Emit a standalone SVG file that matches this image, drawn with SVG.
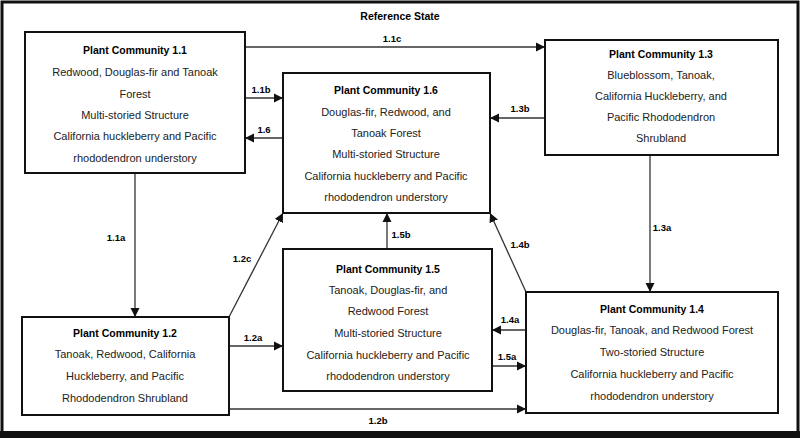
<svg xmlns="http://www.w3.org/2000/svg" width="800" height="438" viewBox="0 0 800 438">
<defs>
<marker id="a" viewBox="0 0 10 10" refX="10" refY="5" markerWidth="7" markerHeight="7" orient="auto"><path d="M0,0L10,5L0,10z" fill="#111"/></marker>
<style>
.b{fill:#fff;stroke:#111;stroke-width:2}
text{font-family:"Liberation Sans",Arial,sans-serif;font-size:11px;fill:#222;text-anchor:middle}
.h{font-weight:bold;font-size:10.5px;fill:#000}
.l{font-weight:bold;font-size:9.5px;fill:#000}
#c line{stroke:#333;stroke-width:1.3;marker-end:url(#a)}
</style>
</defs>
<rect x="0" y="0" width="800" height="438" fill="#fff"/>
<rect x="2" y="2" width="796" height="431" fill="none" stroke="#111" stroke-width="3"/>
<rect x="0" y="431" width="800" height="7" fill="#111"/>
<text class="h" x="400" y="20">Reference State</text>
<g id="c">
<line x1="245" y1="47" x2="545" y2="47"/>
<line x1="245" y1="98" x2="283" y2="98"/>
<line x1="283" y1="138" x2="245" y2="138"/>
<line x1="545" y1="118" x2="490" y2="118"/>
<line x1="135" y1="173" x2="135" y2="317"/>
<line x1="650" y1="155" x2="650" y2="292"/>
<line x1="229" y1="317" x2="283" y2="213"/>
<line x1="387" y1="249" x2="387" y2="213"/>
<line x1="526" y1="292" x2="490" y2="213"/>
<line x1="229" y1="346" x2="283" y2="346"/>
<line x1="526" y1="330" x2="492" y2="330"/>
<line x1="492" y1="366" x2="526" y2="366"/>
<line x1="229" y1="409" x2="526" y2="409"/>
<text class="l" x="392" y="42">1.1c</text>
<text class="l" x="261" y="93">1.1b</text>
<text class="l" x="264" y="133">1.6</text>
<text class="l" x="520" y="112">1.3b</text>
<text class="l" x="116" y="241">1.1a</text>
<text class="l" x="662" y="231">1.3a</text>
<text class="l" x="242" y="262">1.2c</text>
<text class="l" x="401" y="238">1.5b</text>
<text class="l" x="520" y="248">1.4b</text>
<text class="l" x="253" y="341">1.2a</text>
<text class="l" x="510" y="323">1.4a</text>
<text class="l" x="507" y="360">1.5a</text>
<text class="l" x="378" y="424">1.2b</text>
</g>
<g id="pc11"><rect class="b" x="25" y="32" width="220" height="141"/>
<text class="h" x="135" y="54">Plant Community 1.1</text>
<text x="135" y="76">Redwood, Douglas-fir and Tanoak</text>
<text x="135" y="98">Forest</text>
<text x="135" y="119">Multi-storied Structure</text>
<text x="135" y="140">California huckleberry and Pacific</text>
<text x="135" y="162">rhododendron understory</text></g>
<g id="pc16"><rect class="b" x="283" y="73" width="207" height="140"/>
<text class="h" x="386" y="94">Plant Community 1.6</text>
<text x="386" y="116">Douglas-fir, Redwood, and</text>
<text x="386" y="137">Tanoak Forest</text>
<text x="386" y="158">Multi-storied Structure</text>
<text x="386" y="180">California huckleberry and Pacific</text>
<text x="386" y="201">rhododendron understory</text></g>
<g id="pc13"><rect class="b" x="545" y="40" width="233" height="115"/>
<text class="h" x="661" y="58">Plant Community 1.3</text>
<text x="661" y="79">Blueblossom, Tanoak,</text>
<text x="661" y="100">California Huckleberry, and</text>
<text x="661" y="121">Pacific Rhododendron</text>
<text x="661" y="142">Shrubland</text></g>
<g id="pc12"><rect class="b" x="22" y="317" width="207" height="98"/>
<text class="h" x="125" y="337">Plant Community 1.2</text>
<text x="125" y="358">Tanoak, Redwood, California</text>
<text x="125" y="380">Huckleberry, and Pacific</text>
<text x="125" y="402">Rhododendron Shrubland</text></g>
<g id="pc15"><rect class="b" x="283" y="249" width="209" height="142"/>
<text class="h" x="388" y="273">Plant Community 1.5</text>
<text x="388" y="294">Tanoak, Douglas-fir, and</text>
<text x="388" y="315">Redwood Forest</text>
<text x="388" y="337">Multi-storied Structure</text>
<text x="388" y="359">California huckleberry and Pacific</text>
<text x="388" y="380">rhododendron understory</text></g>
<g id="pc14"><rect class="b" x="526" y="292" width="252" height="121"/>
<text class="h" x="652" y="313">Plant Community 1.4</text>
<text x="652" y="334">Douglas-fir, Tanoak, and Redwood Forest</text>
<text x="652" y="356">Two-storied Structure</text>
<text x="652" y="378">California huckleberry and Pacific</text>
<text x="652" y="400">rhododendron understory</text></g>
</svg>
